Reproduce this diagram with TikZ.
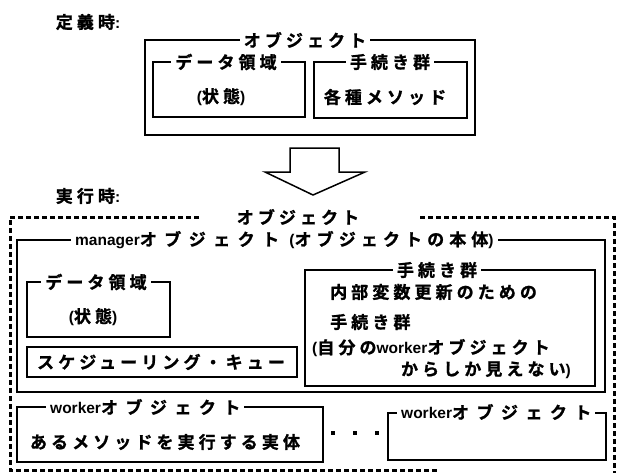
\documentclass[tikz,border=0pt]{standalone}
\usepackage{fontspec}
\newfontfamily\jpf{Noto Sans CJK JP Bold}[LetterSpace=24,FakeBold=1.2]
\newfontfamily\jpw{Noto Sans CJK JP Bold}[LetterSpace=44,FakeBold=1.2]
\newfontfamily\jpn{Noto Sans CJK JP Bold}[LetterSpace=30,FakeBold=1.2]
\newfontfamily\lat{Liberation Sans Bold}
\newcommand\J[1]{{\jpf #1}}
\newcommand\Jw[1]{{\jpw #1}}
\newcommand\Jn[1]{{\jpn #1}}
\newcommand\Lt[1]{{\fontsize{15.5}{18}\lat #1}}
\begin{document}
\begin{tikzpicture}[x=1pt,y=-1pt,
  every node/.style={font=\fontsize{17}{20}\selectfont, inner sep=0pt},
  ttl/.style={fill=white, inner xsep=4pt, inner ysep=1pt},
  dashbox/.style={line width=3pt, dash pattern=on 5pt off 3pt},
  dotmark/.style={fill, rectangle, minimum size=3.5pt}
]
\useasboundingbox (0,0) rectangle (617,473);

% ---- definition time ----
\node (def) at (88,22) {\J{定義時}\Lt{:}};
\draw[line width=2.5pt] (145,40) rectangle (475,135);
\node[ttl] (objt) at (305,40) {\J{オブジェクト}};
\draw[line width=2pt] (153,62) rectangle (305,117);
\node[ttl] (dat) at (226,62) {\J{データ領域}};
\node (st) at (221,97) {\Lt{(}\J{状態}\Lt{)}};
\draw[line width=2pt] (314,62) rectangle (467,118);
\node[ttl] (prc) at (390,62) {\J{手続き群}};
\node (meth) at (385,97) {\J{各種メソッド}};

% ---- arrow ----
\draw[line width=1.5pt, line join=miter] (290,148) -- (339,148) -- (339,172) -- (365,172) -- (313,195) -- (265,172) -- (290,172) -- cycle;

% ---- run time ----
\node (run) at (88,196) {\J{実行時}\Lt{:}};
\draw[dashbox] (199,217) -- (10,217) -- (10,470) -- (437,470);
\draw[dashbox] (420,217) -- (614,217) -- (614,473);
\node (robj) at (298,217) {\J{オブジェクト}};

\draw[line width=2.8pt] (17,240) rectangle (605,392);
\node[ttl, anchor=west] (mgr) at (71,240) {\Lt{manager}\Jw{オブジェクト}\hspace{0.6em}\Lt{(}\Jn{オブジェクトの本体}\Lt{)}};

\draw[line width=2pt] (27,282) rectangle (170,337);
\node[ttl] (rdat) at (96,282) {\J{データ領域}};
\node (rst) at (93,317) {\Lt{(}\J{状態}\Lt{)}};

\draw[line width=1.6pt] (27,347) rectangle (297,377);
\node (que) at (161,362) {\J{スケジューリング・キュー}};

\draw[line width=2pt] (305,270) rectangle (595,386);
\node[ttl] (rprc) at (437,270) {\J{手続き群}};
\node[anchor=west] (l1) at (330,292) {\J{内部変数更新のための}};
\node[anchor=west] (l2) at (330,322) {\J{手続き群}};
\node[anchor=west] (l3) at (312,348) {\Lt{(}\J{自分の}\Lt{worker}\J{オブジェクト}};
\node[anchor=east] (l4) at (571,370) {\J{からしか見えない}\Lt{)}};

\draw[line width=2.2pt] (17,407) rectangle (323,462);
\node[ttl, anchor=west] (w1) at (46,407) {\Lt{worker}\Jw{オブジェクト}};
\node (w1c) at (165,442) {\J{あるメソッドを実行する実体}};

\node[dotmark] (d1) at (333,433) {};
\node[dotmark] (d2) at (355,433) {};
\node[dotmark] (d3) at (377,433) {};

\draw[line width=2.2pt] (388,413) rectangle (606,460);
\node[ttl, anchor=west] (w2) at (397,412) {\Lt{worker}\Jw{オブジェクト}};
\end{tikzpicture}
\end{document}
